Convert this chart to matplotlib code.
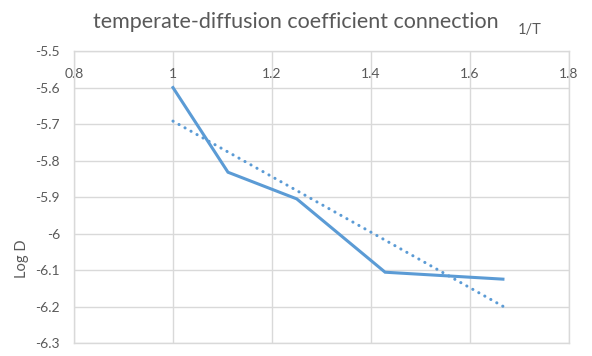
import numpy as np
import matplotlib
matplotlib.use('Agg')
import matplotlib.pyplot as plt

# 1/T values and measured Log D
inv_t = [1.0, 1.1111, 1.25, 1.4286, 1.6667]
log_d = [-5.6, -5.832, -5.905, -6.106, -6.125]

x_ticks = [0.8, 1.0, 1.2, 1.4, 1.6, 1.8]
x_tick_labels = ['0.8', '1', '1.2', '1.4', '1.6', '1.8']
y_ticks = [-5.5, -5.6, -5.7, -5.8, -5.9, -6.0, -6.1, -6.2, -6.3]
y_tick_labels = ['-5.5', '-5.6', '-5.7', '-5.8', '-5.9', '-6', '-6.1', '-6.2', '-6.3']

blue = '#5B9BD5'
grid_col = '#D9D9D9'
text_col = '#595959'

plt.rcParams['font.family'] = ['Lato', 'DejaVu Sans']

fig = plt.figure(figsize=(5.92, 3.56), dpi=100)
ax = fig.add_axes([0.125, 0.0365, 0.836, 0.82])

ax.plot(inv_t, log_d, color=blue, lw=2.2, solid_joinstyle='miter')

# linear trendline
k, b = np.polyfit(inv_t, log_d, 1)
tx = np.array([inv_t[0], inv_t[-1]])
ax.plot(tx, k * tx + b, color=blue, lw=2.2, linestyle=(0, (0.05, 2.2)),
        dash_capstyle='round')

ax.set_xlim(0.8, 1.8)
ax.set_ylim(-6.3, -5.5)
ax.set_xticks(x_ticks)
ax.set_xticklabels(x_tick_labels)
ax.set_yticks(y_ticks)
ax.set_yticklabels(y_tick_labels)
ax.grid(True, color=grid_col, lw=1)
ax.set_axisbelow(True)
for s in ax.spines.values():
    s.set_color(grid_col)
    s.set_linewidth(1)

ax.tick_params(axis='x', top=True, labeltop=True, bottom=False, labelbottom=False,
               length=0, pad=-21, labelsize=10, labelcolor=text_col)
ax.tick_params(axis='y', length=0, pad=10, labelsize=10, labelcolor=text_col)

ax.set_ylabel('Log D', fontsize=10.5, color=text_col)
ax.yaxis.set_label_coords(-0.09, 0.29)

fig.text(0.5, 0.938, 'temperate-diffusion coefficient connection', ha='center', va='center',
         fontsize=15.5, color=text_col)
fig.text(0.895, 0.915, '1/T', ha='center', va='center', fontsize=10.5, color=text_col)

fig.savefig('out.png', dpi=100)
